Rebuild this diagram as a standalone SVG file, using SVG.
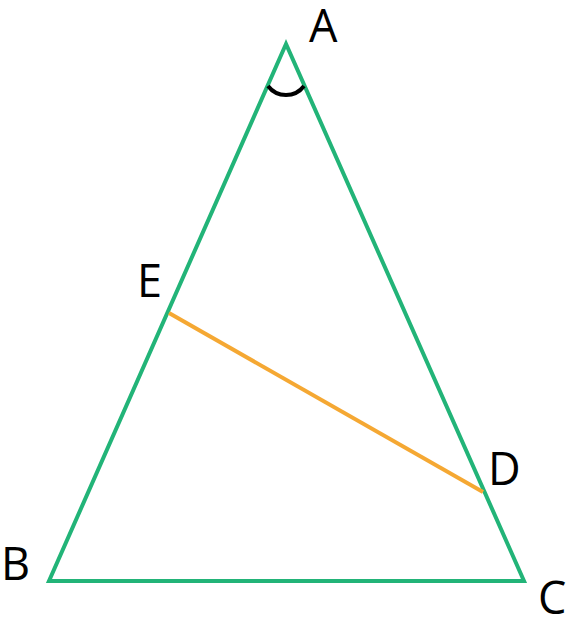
<svg xmlns="http://www.w3.org/2000/svg" width="569" height="629" viewBox="0 0 569 629">
<style>
.lbl{font-family:"Open Sans","Noto Sans","Liberation Sans",sans-serif;font-size:45px;fill:#000}
.tri{fill:none;stroke:#22b478;stroke-width:4;stroke-linejoin:miter;stroke-miterlimit:20}
.seg{stroke:#f5a833;stroke-width:4;fill:none}
.ang{fill:none;stroke:#000;stroke-width:4}
</style>
<rect width="569" height="629" fill="#fff"/>
<g id="connectors">
<polygon class="tri" points="286,44 49,581 524,581"/>
<line class="seg" x1="169" y1="313" x2="483" y2="492"/>
<path class="ang" d="M268,86 A22.5,22.5 0 0 0 304,86"/>
</g>
<g id="A"><text class="lbl" x="309" y="42">A</text></g>
<g id="B"><text class="lbl" x="1" y="580">B</text></g>
<g id="C"><text class="lbl" x="538" y="614">C</text></g>
<g id="D"><text class="lbl" x="488" y="485">D</text></g>
<g id="E"><text class="lbl" x="137" y="297">E</text></g>
</svg>
